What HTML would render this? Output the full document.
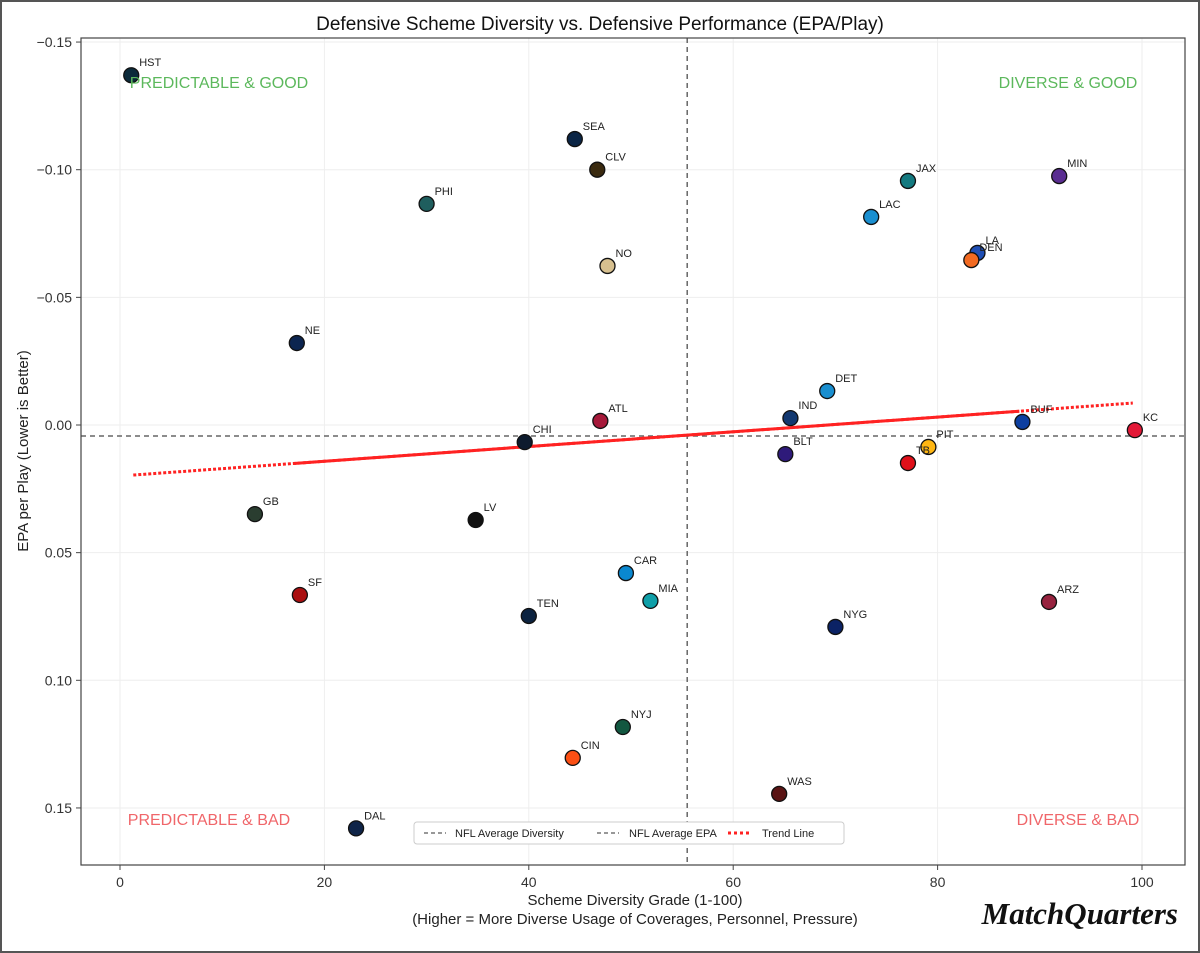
<!DOCTYPE html>
<html><head><meta charset="utf-8"><style>
body{margin:0;background:#fff;}
svg{display:block;font-family:"Liberation Sans",sans-serif;}
</style></head><body>
<svg id="c" width="1200" height="953">
<rect x="1" y="1" width="1198" height="951" fill="#fff" stroke="#555" stroke-width="2"/>
<text x="600" y="30" text-anchor="middle" font-size="19" fill="#111">Defensive Scheme Diversity vs. Defensive Performance (EPA/Play)</text>
<g id="grid"></g>
<g id="marks"></g>
<rect x="81" y="38" width="1104" height="827" fill="none" stroke="#444" stroke-width="1.2"/>
<text x="635" y="905" text-anchor="middle" font-size="15" fill="#222">Scheme Diversity Grade (1-100)</text>
<text x="635" y="924" text-anchor="middle" font-size="15" fill="#222">(Higher = More Diverse Usage of Coverages, Personnel, Pressure)</text>
<text transform="translate(28,451) rotate(-90)" text-anchor="middle" font-size="15" fill="#222">EPA per Play (Lower is Better)</text>
<text x="219" y="88" text-anchor="middle" font-size="16" fill="#5cb85c">PREDICTABLE &amp; GOOD</text>
<text x="1068" y="88" text-anchor="middle" font-size="16" fill="#5cb85c">DIVERSE &amp; GOOD</text>
<text x="209" y="825" text-anchor="middle" font-size="16" fill="#f0666a">PREDICTABLE &amp; BAD</text>
<text x="1078" y="825" text-anchor="middle" font-size="16" fill="#f0666a">DIVERSE &amp; BAD</text>
<g>
<rect x="414" y="822" width="430" height="22" rx="3" fill="#fff" stroke="#ccc"/>
<line x1="424" y1="833" x2="446" y2="833" stroke="#777" stroke-width="1.5" stroke-dasharray="4,3"/>
<text x="455" y="837" font-size="11" fill="#222">NFL Average Diversity</text>
<line x1="597" y1="833" x2="619" y2="833" stroke="#777" stroke-width="1.5" stroke-dasharray="4,3"/>
<text x="629" y="837" font-size="11" fill="#222">NFL Average EPA</text>
<line x1="728" y1="833" x2="750" y2="833" stroke="#f22" stroke-width="3" stroke-dasharray="3,3"/>
<text x="762" y="837" font-size="11" fill="#222">Trend Line</text>
</g>
<text x="1178" y="924" text-anchor="end" font-family="Liberation Serif,serif" font-weight="bold" font-style="italic" font-size="31" fill="#111">MatchQuarters</text>
</svg>
<script>
const teams=["HST","SEA","CLV","PHI","JAX","MIN","LAC","LA","DEN","NO","NE","DET","IND","ATL","BUF","KC","CHI","PIT","BLT","TB","GB","LV","CAR","MIA","ARZ","SF","TEN","NYG","NYJ","CIN","WAS","DAL"];
const diversity=[1.1,44.5,46.7,30.0,77.1,91.9,73.5,83.9,83.3,47.7,17.3,69.2,65.6,47.0,88.3,99.3,39.6,79.1,65.1,77.1,13.2,34.8,49.5,51.9,90.9,17.6,40.0,70.0,49.2,44.3,64.5,23.1];
const epa=[-0.137,-0.112,-0.100,-0.0866,-0.0956,-0.0975,-0.0815,-0.0674,-0.0646,-0.0623,-0.0321,-0.0133,-0.0027,-0.0016,-0.0012,0.002,0.0067,0.0086,0.0114,0.0149,0.0349,0.0372,0.058,0.0689,0.0693,0.0666,0.0748,0.0791,0.1183,0.1304,0.1445,0.158];
const colors=["#0b2a3a","#0b2545","#3a2a0f","#1f5e5e","#147a80","#5a2d91","#1a8fd0","#1f4fb5","#f26a21","#d7c08f","#0c2550","#1a8fd0","#123870","#a6193a","#0d3fa0","#e31837","#0d1b2e","#ffb612","#2e1a7a","#e0101a","#2a3d30","#111111","#0a88d0","#0f9fa8","#97233f","#aa0f10","#0c2340","#0b2265","#125740","#fb4f14","#5a1414","#0f2448"];
const xTicks=[0,20,40,60,80,100];
const yTicks=[-0.15,-0.10,-0.05,0.00,0.05,0.10,0.15];
const yTickLabels=["\u22120.15","\u22120.10","\u22120.05","0.00","0.05","0.10","0.15"];
const avgDiversity=55.5, avgEpa=0.0043;
const trendX=[1.3,99.1], trendY=[0.0196,-0.0086];
const X=v=>120+v*10.22, Y=v=>425+v*2553;
const NS="http://www.w3.org/2000/svg";
function mk(tag,attrs,parent){const e=document.createElementNS(NS,tag);for(const k in attrs)e.setAttribute(k,attrs[k]);parent.appendChild(e);return e;}
const grid=document.getElementById('grid'), marks=document.getElementById('marks');
xTicks.forEach(t=>{
 const l=mk('line',{x1:X(t),x2:X(t),y1:38,y2:865,stroke:'#eee'},grid);
 
 
 mk('line',{x1:X(t),x2:X(t),y1:865,y2:870,stroke:'#444'},grid);
 const tx=mk('text',{x:X(t),y:887,'text-anchor':'middle','font-size':14,fill:'#333'},grid);tx.textContent=t;
 
 
});
yTicks.forEach((t,i)=>{
 const l=mk('line',{x1:81,x2:1185,y1:Y(t),y2:Y(t),stroke:'#eee'},grid);
 
 
 mk('line',{x1:76,x2:81,y1:Y(t),y2:Y(t),stroke:'#444'},grid);
 const tx=mk('text',{x:72,y:Y(t)+5,'text-anchor':'end','font-size':14,fill:'#333'},grid);tx.textContent=yTickLabels[i];
 
 
});
const av=mk('line',{x1:X(avgDiversity),x2:X(avgDiversity),y1:38,y2:865,stroke:'#666','stroke-width':1.5,'stroke-dasharray':'5,4'},marks);


const ae=mk('line',{x1:81,x2:1185,y1:Y(avgEpa),y2:Y(avgEpa),stroke:'#666','stroke-width':1.5,'stroke-dasharray':'5,4'},marks);


const tr=mk('line',{x1:X(trendX[0]),x2:X(trendX[1]),y1:Y(trendY[0]),y2:Y(trendY[1]),stroke:'#f22','stroke-width':3,'stroke-dasharray':'3,2'},marks);


const f=v=>trendY[0]+(v-trendX[0])*(trendY[1]-trendY[0])/(trendX[1]-trendX[0]);
const tr2=mk('line',{x1:X(17),x2:X(88),y1:Y(f(17)),y2:Y(f(88)),stroke:'#f22','stroke-width':3},marks);


teams.forEach((t,i)=>{
 const c=mk('circle',{cx:X(diversity[i]),cy:Y(epa[i]),r:7.5,fill:colors[i],stroke:'#111','stroke-width':1.3},marks);
 
 
 const tx=mk('text',{x:X(diversity[i])+8,y:Y(epa[i])-9,'font-size':11,fill:'#222'},marks);tx.textContent=t;
 
 
});
</script>
</body></html>
